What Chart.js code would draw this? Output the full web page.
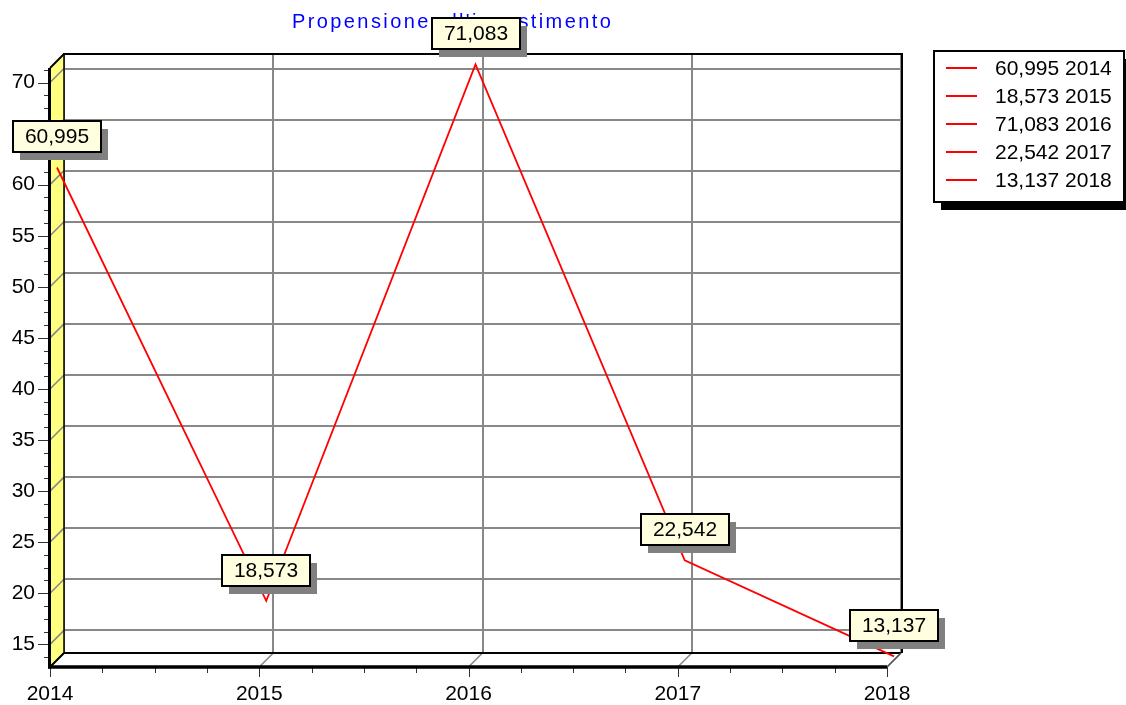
<!DOCTYPE html>
<html lang="it">
<head>
<meta charset="utf-8">
<title>Propensione all'investimento</title>
<script src="https://cdn.jsdelivr.net/npm/chart.js@4.4.1/dist/chart.umd.min.js"></script>
<style>
  html, body { margin: 0; padding: 0; background: #fff; }
  #contenitore { position: relative; width: 1126px; height: 705px; }
</style>
</head>
<body>
<div id="contenitore"><canvas id="grafico"></canvas></div>
<script>
// Dati del grafico
const titolo = "Propensione all'investimento";
const anni = ['2014', '2015', '2016', '2017', '2018'];
const valori = [60.995, 18.573, 71.083, 22.542, 13.137];
const yMin = 12.78;
const yMax = 71.42;
const yPasso = 5;

// Profondità dell'effetto 3D (pixel)
const PROF = 14;
const FONT = '"Liberation Sans", Arial, sans-serif';

function formatta(v) {
    return v.toFixed(3).replace('.', ',');
}

function linea(ctx, x1, y1, x2, y2) {
    ctx.beginPath();
    ctx.moveTo(x1, y1);
    ctx.lineTo(x2, y2);
    ctx.stroke();
}

// Pareti, pavimento e tacche in stile 3D
const effetto3D = {
    id: 'effetto3D',
    beforeDatasetsDraw(chart) {
        const ctx = chart.ctx;
        const a = chart.chartArea;
        const sx = chart.scales.x;
        const sy = chart.scales.y;
        const fl = a.left - PROF;     // bordo sinistro anteriore
        const fb = a.bottom + PROF;   // bordo inferiore anteriore

        ctx.save();
        // Parete sinistra gialla
        ctx.fillStyle = '#FFFF80';
        ctx.beginPath();
        ctx.moveTo(fl, a.top + PROF);
        ctx.lineTo(a.left, a.top);
        ctx.lineTo(a.left, a.bottom);
        ctx.lineTo(fl, fb);
        ctx.closePath();
        ctx.fill();

        // Prolungamenti diagonali della griglia
        ctx.strokeStyle = '#888';
        ctx.lineWidth = 1.6;
        sy.ticks.forEach(t => {
            const y = sy.getPixelForValue(t.value);
            linea(ctx, fl, y + PROF, a.left, y);
        });
        sx.ticks.forEach((t, i) => {
            const x = sx.getPixelForTick(i);
            linea(ctx, x - PROF, fb, x, a.bottom);
        });

        // Tacche asse Y (maggiori e minori)
        ctx.strokeStyle = '#333';
        ctx.lineWidth = 1;
        const passoMin = yPasso / 4;
        for (let v = Math.ceil(yMin / passoMin) * passoMin; v <= yMax; v += passoMin) {
            const y = Math.round(sy.getPixelForValue(v) + PROF) + 0.5;
            const maggiore = Math.abs(v / yPasso - Math.round(v / yPasso)) < 1e-6;
            linea(ctx, fl - (maggiore ? 12 : 6), y, fl, y);
        }
        // Tacche asse X
        for (let i = 0; i < anni.length; i++) {
            const x = Math.round(sx.getPixelForValue(i) - PROF) + 0.5;
            linea(ctx, x, fb, x, fb + 10);
            if (i < anni.length - 1) {
                for (let k = 1; k < 4; k++) {
                    const xm = Math.round(sx.getPixelForValue(i + k / 4) - PROF) + 0.5;
                    linea(ctx, xm, fb, xm, fb + 6);
                }
            }
        }

        // Cornice
        ctx.strokeStyle = '#000';
        ctx.lineWidth = 2;
        linea(ctx, a.left - 1, a.top, a.right + 2, a.top);
        linea(ctx, a.right + 1, a.top, a.right + 1, a.bottom);
        linea(ctx, a.left, a.bottom, a.right, a.bottom);
        ctx.lineWidth = 1.5;
        linea(ctx, a.left, a.top, a.left, a.bottom);
        ctx.lineWidth = 2;
        linea(ctx, fl, a.top + PROF, a.left, a.top);
        linea(ctx, fl, fb, a.left, a.bottom);
        ctx.lineWidth = 3;
        linea(ctx, fl - 0.5, a.top + PROF, fl - 0.5, fb + 1.5);
        ctx.lineWidth = 3.5;
        linea(ctx, fl - 2, fb, a.right - PROF, fb);
        ctx.strokeStyle = '#555';
        ctx.lineWidth = 1.5;
        linea(ctx, a.right - PROF, fb, a.right, a.bottom);
        ctx.restore();

        // La serie sta a metà profondità
        ctx.save();
        ctx.translate(-PROF / 2, PROF / 2);
    },
    afterDatasetsDraw(chart) {
        const ctx = chart.ctx;
        ctx.restore();
        const a = chart.chartArea;

        // Titolo
        ctx.save();
        ctx.font = '20px ' + FONT;
        ctx.fillStyle = '#0000FF';
        ctx.letterSpacing = '2.4px';
        ctx.textAlign = 'left';
        ctx.textBaseline = 'middle';
        ctx.fillText(titolo, 292, 22);
        ctx.restore();

        // Etichette dei valori
        const meta = chart.getDatasetMeta(0);
        ctx.save();
        ctx.font = '21px ' + FONT;
        ctx.textAlign = 'center';
        ctx.textBaseline = 'middle';
        meta.data.forEach((p, i) => {
            const testo = formatta(valori[i]);
            const px = p.x - PROF / 2;
            const py = p.y + PROF / 2;
            const w = Math.round(ctx.measureText(testo).width + 24);
            const h = 31;
            const bx = Math.round(px - w / 2);
            const by = Math.round(py - 15 - h);
            ctx.fillStyle = '#808080';
            ctx.fillRect(bx + 7, by + 8, w, h);
            ctx.fillStyle = '#FFFFE0';
            ctx.fillRect(bx, by, w, h);
            ctx.strokeStyle = '#000';
            ctx.lineWidth = 2;
            ctx.strokeRect(bx, by, w, h);
            ctx.fillStyle = '#000';
            ctx.fillText(testo, bx + w / 2, by + h / 2 + 1);
        });
        ctx.restore();

        // Legenda
        const lx = a.right + 33;
        const ly = a.top - 3;
        const lw = 190;
        const lh = 151;
        ctx.save();
        ctx.fillStyle = '#000';
        ctx.fillRect(lx + 7, ly + 8, lw, lh);
        ctx.fillStyle = '#fff';
        ctx.fillRect(lx, ly, lw, lh);
        ctx.strokeStyle = '#000';
        ctx.lineWidth = 2;
        ctx.strokeRect(lx, ly, lw, lh);
        ctx.font = '21px ' + FONT;
        ctx.textBaseline = 'middle';
        ctx.textAlign = 'left';
        valori.forEach((v, i) => {
            const y = ly + 17 + i * 28;
            ctx.strokeStyle = '#FF0000';
            ctx.lineWidth = 2;
            linea(ctx, lx + 12, y, lx + 43, y);
            ctx.fillStyle = '#000';
            ctx.fillText(formatta(v) + ' ' + anni[i], lx + 61, y + 1);
        });
        ctx.restore();
    }
};

const ctxGrafico = document.getElementById('grafico');
new Chart(ctxGrafico, {
    type: 'line',
    data: {
        labels: anni,
        datasets: [{
            label: titolo,
            data: valori,
            borderColor: '#FF0000',
            borderWidth: 1.8,
            pointRadius: 0,
            tension: 0,
            fill: false
        }]
    },
    options: {
        responsive: true,
        maintainAspectRatio: false,
        animation: false,
        layout: {
            padding: { left: 0, top: 54, right: 225, bottom: 0 }
        },
        plugins: {
            legend: { display: false },
            title: { display: false },
            tooltip: { enabled: false }
        },
        scales: {
            x: {
                offset: false,
                grid: { color: '#888', lineWidth: 2, drawTicks: false, offset: false },
                border: { display: false },
                ticks: {
                    padding: 29,
                    labelOffset: -PROF,
                    color: '#000',
                    maxRotation: 0,
                    autoSkip: false,
                    font: { family: FONT, size: 21 }
                },
                afterFit: s => { s.height = 52; }
            },
            y: {
                min: yMin,
                max: yMax,
                grid: { color: '#888', lineWidth: 2, drawTicks: false },
                border: { display: false },
                ticks: {
                    stepSize: yPasso,
                    includeBounds: false,
                    padding: 29,
                    labelOffset: PROF,
                    color: '#000',
                    font: { family: FONT, size: 21 }
                },
                afterFit: s => { s.width = 64; }
            }
        }
    },
    plugins: [effetto3D]
});
</script>
</body>
</html>
